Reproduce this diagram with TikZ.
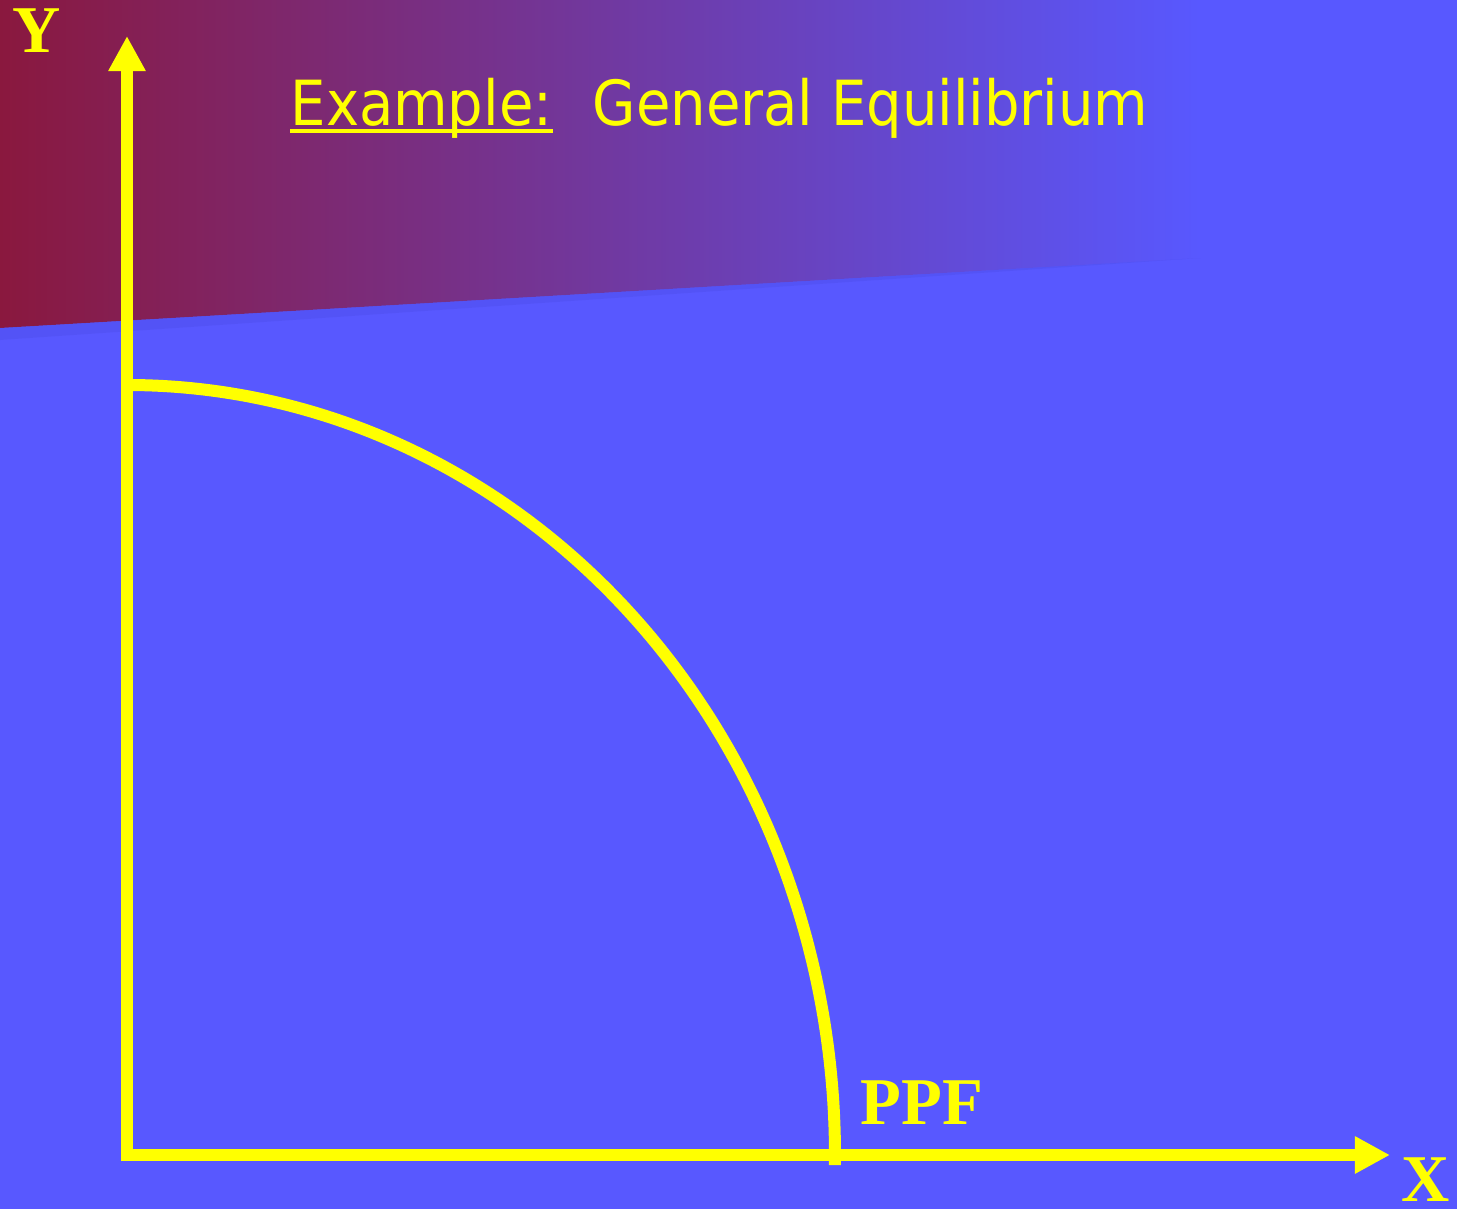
\documentclass[tikz,border=0pt]{standalone}
\usepackage{fontspec}
\setmainfont{Liberation Serif}
\newfontfamily\titlefont{DejaVu Sans Condensed}
\usetikzlibrary{arrows.meta, positioning}
\definecolor{slideblue}{RGB}{88,88,255}
\definecolor{slidered}{RGB}{138,24,62}
\definecolor{edgeblue}{RGB}{80,80,238}
\definecolor{ppfyellow}{RGB}{255,255,0}
\tikzset{
    axis/.style={line width=1.2mm, ppfyellow, line cap=rect,
                 -{Triangle[length=3.5mm, width=3.5mm]}},
    frontier/.style={line width=1.2mm, ppfyellow},
    axislabel/.style={text=ppfyellow, inner sep=0pt,
                      font=\fontsize{19}{22}\selectfont\bfseries},
    titletext/.style={text=ppfyellow, inner sep=0pt, anchor=base west,
                      font=\titlefont\fontsize{17.7}{22}\selectfont},
    underline/.style={line width=1.1pt, ppfyellow}
}

\begin{document}
\begin{tikzpicture}[x=0.01cm, y=-0.01cm]
    \useasboundingbox (0,0) rectangle (1457,1209);
    % slide background
    \fill[slideblue] (0,0) rectangle (1457,1209);
    \begin{scope}
        \clip (0,0) -- (1200,0) -- (1200,258) -- (0,328) -- cycle;
        \shade[left color=slidered, right color=slideblue] (0,0) rectangle (1200,340);
    \end{scope}
    \fill[edgeblue, opacity=0.5] (0,328) -- (1200,258) -- (0,340) -- cycle;
    % title
    \node[titletext] (extitle) at (290,125) {Example:};
    \node[titletext] (eqtitle) at (592,125) {General Equilibrium};
    \draw[underline] ([yshift=-1.6pt]extitle.base west) -- ([yshift=-1.6pt]extitle.base east);
    % axes
    \coordinate (origin) at (127,1155);
    \coordinate (ytip) at (127,36);
    \coordinate (xtip) at (1390,1155);
    \draw[axis] (origin) -- (ytip);
    \draw[axis] (origin) -- (xtip);
    \node[axislabel] (ylabel) at (37,31) {Y};
    \node[axislabel] (xlabel) at (1426,1180) {X};
    % production possibility frontier
    \coordinate (ppftop) at (127,385);
    \draw[frontier] (ppftop) arc[start angle=-90, end angle=0.75,
                                 x radius=708, y radius=770];
    \node[axislabel] (ppflabel) at (922,1103) {PPF};
\end{tikzpicture}
\end{document}
